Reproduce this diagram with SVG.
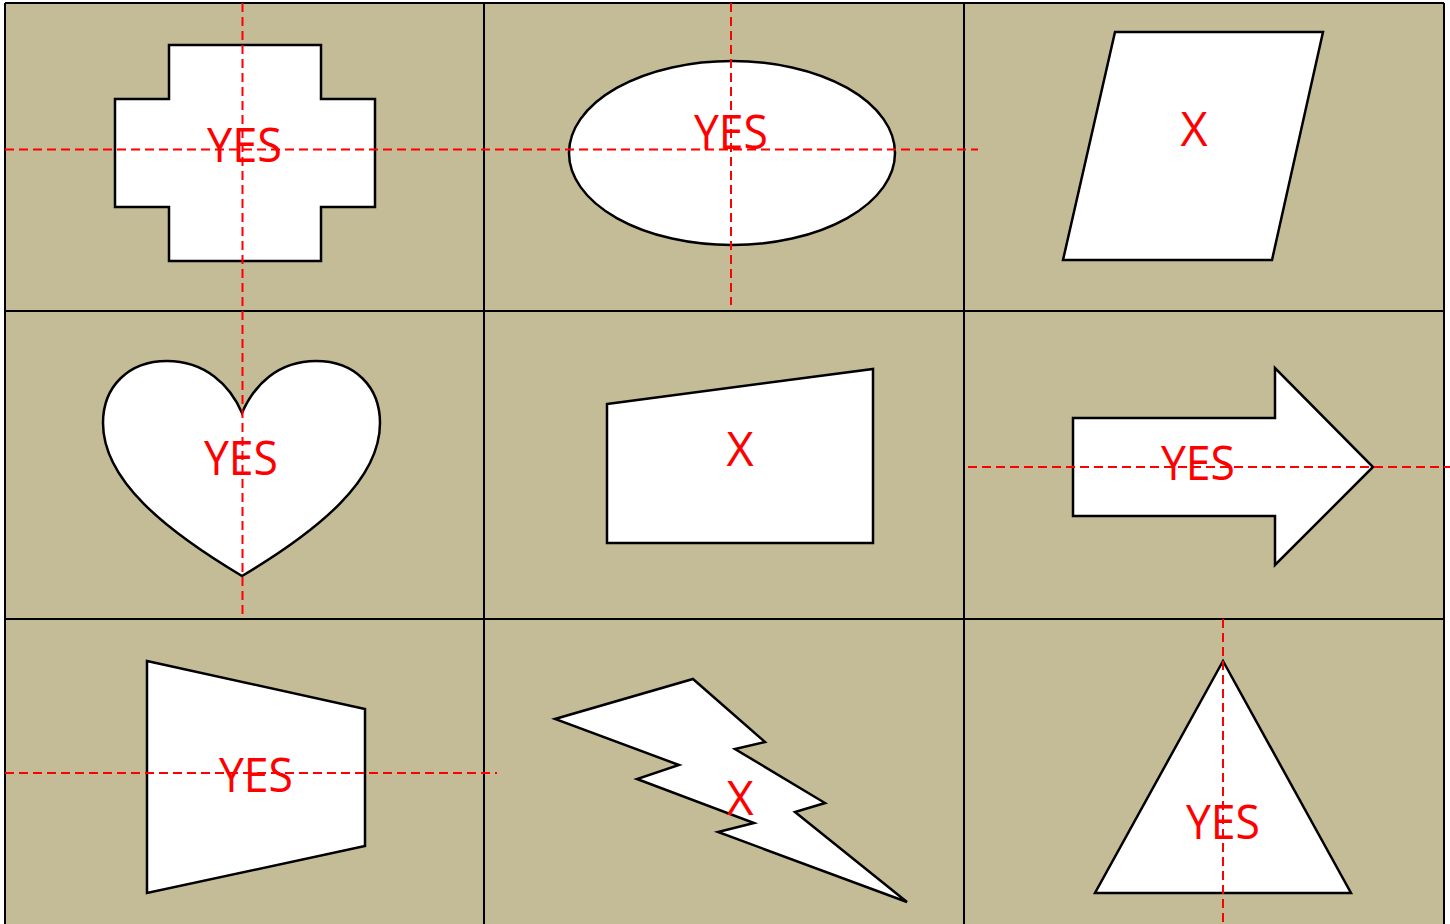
<svg xmlns="http://www.w3.org/2000/svg" width="1450" height="924" viewBox="0 0 1450 924">
<style>
.shape{fill:#ffffff;stroke:#000000;stroke-width:2.5;stroke-linejoin:miter}
.grid{stroke:#000000;stroke-width:2;fill:none}
.axis{stroke:#ff0000;stroke-width:2;stroke-dasharray:9,5;fill:none}
.lbl{font-family:"Open Sans","Liberation Sans",sans-serif;font-size:47px;fill:#ff0000;text-anchor:middle}
</style>
<rect x="0" y="0" width="1450" height="924" fill="#ffffff"/>
<rect x="5" y="3" width="1439" height="930" fill="#c4bc96"/>
<g id="grid">
<line class="grid" x1="5" y1="3" x2="1444" y2="3"/>
<line class="grid" x1="5" y1="311" x2="1444" y2="311"/>
<line class="grid" x1="5" y1="619" x2="1444" y2="619"/>
<line class="grid" x1="5" y1="3" x2="5" y2="924"/>
<line class="grid" x1="484" y1="3" x2="484" y2="924"/>
<line class="grid" x1="964" y1="3" x2="964" y2="924"/>
<line class="grid" x1="1444" y1="3" x2="1444" y2="924"/>
</g>
<g id="cross"><polygon class="shape" points="169,45 321,45 321,99 375,99 375,207 321,207 321,261 169,261 169,207 115,207 115,99 169,99"/></g>
<g id="ellipse"><ellipse class="shape" cx="732" cy="153" rx="163" ry="92"/></g>
<g id="parallelogram"><polygon class="shape" points="1115,32 1323,32 1272,260 1063,260"/></g>
<g id="heart"><path class="shape" d="M242,413 C230,385 205,361 167,361 C128,361 103,387 103,423 C103,480 165,530 242,576 C319,530 380,480 380,423 C380,387 355,361 316,361 C278,361 254,385 242,413 Z"/></g>
<g id="quad"><polygon class="shape" points="607,404 873,369 873,543 607,543"/></g>
<g id="arrow"><polygon class="shape" points="1073,418 1275,418 1275,368 1373,467 1275,565 1275,516 1073,516"/></g>
<g id="trapezoid"><polygon class="shape" points="147,661 365,709 365,846 147,893"/></g>
<g id="lightning"><polygon class="shape" points="693,679 765,742 735,749 825,803 795,812 907,902 718,832 754,823 637,779 679,765 555,719"/></g>
<g id="triangle"><polygon class="shape" points="1223,661 1351,893 1095,893"/></g>
<g id="axes">
<line class="axis" x1="242.5" y1="3" x2="242.5" y2="619"/>
<line class="axis" x1="5" y1="149.5" x2="978" y2="149.5"/>
<line class="axis" x1="731" y1="3" x2="731" y2="305"/>
<line class="axis" x1="968" y1="467" x2="1450" y2="467"/>
<line class="axis" x1="5" y1="773" x2="497" y2="773"/>
<line class="axis" x1="1223" y1="619" x2="1223" y2="924"/>
</g>
<g id="labels">
<text class="lbl" x="244.5" y="162" textLength="75" lengthAdjust="spacingAndGlyphs">YES</text>
<text class="lbl" x="731" y="149" textLength="74" lengthAdjust="spacingAndGlyphs">YES</text>
<text class="lbl" x="1194" y="146">X</text>
<text class="lbl" x="241" y="475" textLength="74" lengthAdjust="spacingAndGlyphs">YES</text>
<text class="lbl" x="740" y="466">X</text>
<text class="lbl" x="1198" y="480" textLength="74" lengthAdjust="spacingAndGlyphs">YES</text>
<text class="lbl" x="256" y="792" textLength="74" lengthAdjust="spacingAndGlyphs">YES</text>
<text class="lbl" x="740" y="815">X</text>
<text class="lbl" x="1223" y="839" textLength="74" lengthAdjust="spacingAndGlyphs">YES</text>
</g>
</svg>
